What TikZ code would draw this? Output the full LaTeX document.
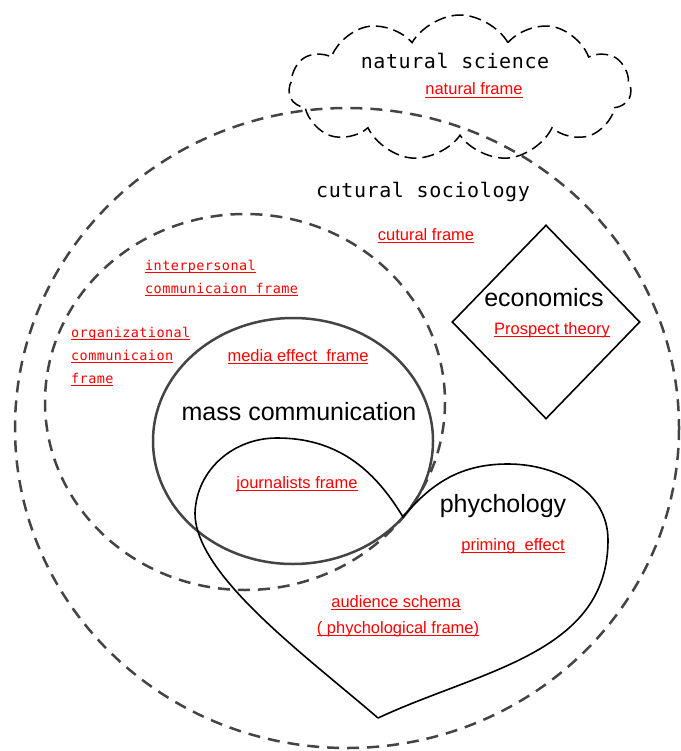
\documentclass[tikz,border=0pt]{standalone}
\usepackage{fontspec}
\usetikzlibrary{shapes.symbols,shapes.geometric}
\newfontfamily\sansf{Liberation Sans}
\newfontfamily\monof{DejaVu Sans Mono}[LetterSpace=3.0]
\definecolor{dgray}{HTML}{444444}
\definecolor{lblred}{RGB}{255,0,0}
\newcommand{\redul}[1]{\setbox0\hbox{#1}\rlap{\vrule width\wd0 height -1.6pt depth 2.6pt}\box0}
\begin{document}
\begin{tikzpicture}[x=1pt,y=-1pt,
  bigdash/.style={draw=dgray,line width=2.5pt,dash pattern=on 12pt off 8pt},
  cloudbox/.style={cloud,cloud puffs=11,cloud puff arc=120,draw=black,line width=1.5pt,dash pattern=on 12pt off 6pt,inner sep=0pt},
  massline/.style={draw=dgray,line width=2.5pt},
  thinline/.style={draw=black,line width=1.6pt},
  bigtxt/.style={font=\sansf\fontsize{25}{30}\selectfont,anchor=base,inner sep=0pt},
  redtxt/.style={font=\sansf\fontsize{16.5}{20}\selectfont,text=lblred,anchor=base,inner sep=0pt},
  monotxt/.style={font=\monof\fontsize{20}{24}\selectfont,anchor=base,inner sep=0pt},
  redmono/.style={font=\monof\fontsize{13.5}{16}\selectfont,text=lblred,anchor=base west,inner sep=0pt}
]
\useasboundingbox (0,0) rectangle (680,751);
% shapes
\node[cloudbox,minimum width=342pt,minimum height=146pt] (cloud) at (460,88) {};
\draw[bigdash] (347,428) ellipse [x radius=332, y radius=320];
\draw[bigdash] (245,402) ellipse [x radius=200, y radius=188];
\draw[massline] (293,441) ellipse [x radius=140, y radius=123];
\node[diamond,thinline,minimum width=188pt,minimum height=194pt,inner sep=0pt] (econshape) at (546,322) {};
\draw[thinline] (378,718) .. controls (305,655) and (195,575) .. (195,513)
   to[out=88,in=180] (277,438)
   to[out=0,in=121] (403,517) to[out=50,in=180] (508,464) to[out=0,in=90] (608,540)
   to[out=-90,in=25] (378,718);
% texts
\node[monotxt] (natsci) at (455,69) {natural science};
\node[redtxt] (natframe) at (474,95) {\redul{natural frame}};
\node[monotxt] (cutsoc) at (423,197) {cutural sociology};
\node[redtxt] (cutframe) at (426,240) {\redul{cutural frame}};
\node[redmono] (inter1) at (145,270) {\redul{interpersonal}};
\node[redmono] (inter2) at (145,293) {\redul{communicaion frame}};
\node[redmono] (org1) at (71,337) {\redul{organizational}};
\node[redmono] (org2) at (71,360) {\redul{communicaion}};
\node[redmono] (org3) at (71,383) {\redul{frame}};
\node[redtxt] (media) at (298,361) {\redul{media effect\ \ frame}};
\node[bigtxt] (masscom) at (299,420) {mass communication};
\node[bigtxt] (econ) at (544,306) {economics};
\node[redtxt] (prospect) at (552,334) {\redul{Prospect theory}};
\node[redtxt] (journ) at (297,488) {\redul{journalists frame}};
\node[bigtxt] (psych) at (503,512) {phychology};
\node[redtxt] (priming) at (513,550) {\redul{priming\ \ effect}};
\node[redtxt] (aud1) at (396,607) {\redul{audience schema}};
\node[redtxt] (aud2) at (398,633) {\redul{( phychological frame)}};
\end{tikzpicture}
\end{document}
